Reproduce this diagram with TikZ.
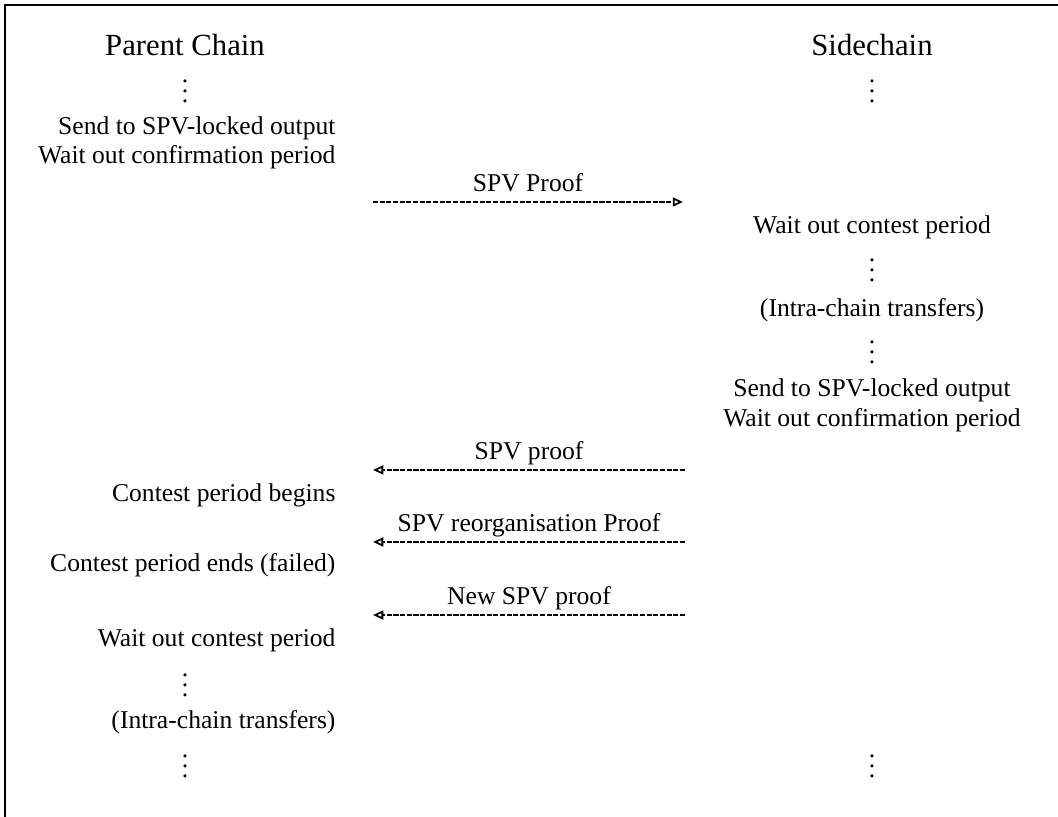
\documentclass[tikz,border=0pt]{standalone}
\usepackage{fontspec}
\setmainfont{Liberation Serif}
\usetikzlibrary{arrows.meta}

\newcommand{\chaindots}{\vbox{\baselineskip4pt\lineskiplimit0pt\hbox{.}\hbox{.}\hbox{.}}}

\tikzset{
  step text/.style={anchor=east, inner sep=0pt},
  side text/.style={inner sep=0pt},
  dots/.style={anchor=base, inner sep=0pt},
  proof/.style={line width=0.7pt, dash pattern=on 2pt off 0.6pt,
    -{Triangle[open,length=4pt,width=3.5pt]}},
  proof label/.style={anchor=base, inner sep=0pt, yshift=4pt}
}

\begin{document}
\begin{tikzpicture}
			\useasboundingbox (0,0) rectangle (14.516,11.209);
			\draw[line width=0.8pt] (0.069,0) -- (0.069,11.140) -- (14.516,11.140);
			\node (parent) at (2.538,10.592) {\large Parent Chain};
			\node (side) at (11.964,10.592) {\large Sidechain};
			\foreach \n/\x/\y in {pdotsA/2.538/9.80, sdotsA/11.964/9.80, sdotsB/11.964/7.345, sdotsC/11.964/6.22, pdotsB/2.538/1.651, pdotsC/2.538/0.54, sdotsD/11.964/0.54}
    \node[dots] (\n) at (\x,\y) {\chaindots};

			\node[step text] (psend) at (4.61,9.453) {Send to SPV-locked output};
			\node[step text] (pwait) at (4.61,9.055) {Wait out confirmation period};
			\node[step text] (pbegin) at (4.61,4.418) {Contest period begins};
			\node[step text] (pend) at (4.61,3.457) {Contest period ends (failed)};
			\node[step text] (pcontest) at (4.61,2.428) {Wait out contest period};
			\node[step text] (ptransfer) at (4.61,1.303) {(Intra-chain transfers)};

			\node[side text] (scontest) at (11.964,8.095) {Wait out contest period};
			\node[side text] (stransfer) at (11.964,6.956) {(Intra-chain transfers)};
			\node[side text] (ssend) at (11.964,5.858) {Send to SPV-locked output};
			\node[side text] (swait) at (11.964,5.447) {Wait out confirmation period};

			\coordinate (pA) at (5.118,8.438);
			\coordinate (sA) at (9.371,8.438);
			\coordinate (pB) at (5.118,4.761);
			\coordinate (sB) at (9.398,4.761);
			\coordinate (pC) at (5.118,3.773);
			\coordinate (sC) at (9.398,3.773);
			\coordinate (pD) at (5.118,2.771);
			\coordinate (sD) at (9.398,2.771);

			\draw[proof] (pA) -- node[proof label] {SPV Proof} (sA);
			\draw[proof] (sB) -- node[proof label] {SPV proof} (pB);
			\draw[proof] (sC) -- node[proof label] {SPV reorganisation Proof} (pC);
			\draw[proof] (sD) -- node[proof label] {New SPV proof} (pD);

		\end{tikzpicture}
\end{document}
